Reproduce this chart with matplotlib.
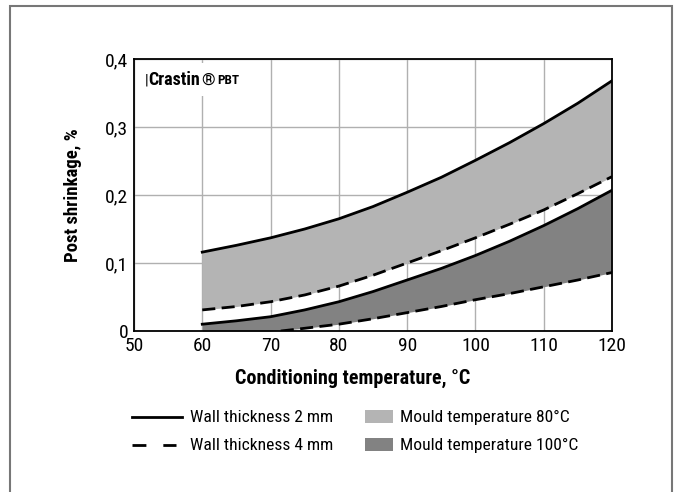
import numpy as np
import matplotlib.pyplot as plt
from matplotlib.lines import Line2D
from matplotlib.patches import Rectangle

plt.rcParams['font.family'] = ['Roboto Condensed', 'Barlow Semi Condensed', 'DejaVu Sans']

temp = [60, 65, 70, 75, 80, 85, 90, 95, 100, 105, 110, 115, 120]
# mould 80 C
m80_2mm = [0.116, 0.126, 0.137, 0.150, 0.165, 0.183, 0.204, 0.226, 0.251, 0.277, 0.305, 0.335, 0.368]
m80_4mm = [0.031, 0.036, 0.043, 0.053, 0.066, 0.082, 0.100, 0.118, 0.137, 0.157, 0.178, 0.202, 0.227]
# mould 100 C
m100_2mm = [0.010, 0.015, 0.021, 0.031, 0.043, 0.058, 0.075, 0.092, 0.111, 0.132, 0.155, 0.180, 0.207]
temp_4mm100 = [71.5, 75, 80, 85, 90, 95, 100, 105, 110, 115, 120]
m100_4mm = [0.0, 0.004, 0.010, 0.018, 0.027, 0.036, 0.046, 0.055, 0.065, 0.075, 0.086]

xticks = [50, 60, 70, 80, 90, 100, 110, 120]
yticks = [0, 0.1, 0.2, 0.3, 0.4]
ylabels = ['0', '0,1', '0,2', '0,3', '0,4']

light = '#b4b4b4'
dark = '#828282'

fig = plt.figure(figsize=(6.74, 4.92), dpi=100)
W, H = 674, 492
ax = fig.add_axes([134 / W, 1 - 331 / H, 478 / W, 272 / H])

ax.fill_between(temp, m80_4mm, m80_2mm, color=light, lw=0, zorder=2)
low100 = np.interp(temp, temp_4mm100, m100_4mm, left=0.0)
ax.fill_between(temp, low100, m100_2mm, color=dark, lw=0, zorder=2)

ax.plot(temp, m80_2mm, color='black', lw=2.0, zorder=3)
ax.plot(temp, m100_2mm, color='black', lw=2.0, zorder=3)
ax.plot(temp, m80_4mm, color='black', lw=2.0, dashes=(4.7, 2.3), zorder=3)
ax.plot(temp_4mm100, m100_4mm, color='black', lw=2.0, dashes=(4.7, 2.3), zorder=3)

ax.set_xlim(50, 120)
ax.set_ylim(0, 0.4)
ax.set_xticks(xticks)
ax.set_xticklabels([str(t) for t in xticks], fontsize=14)
ax.set_yticks(yticks)
ax.set_yticklabels(ylabels, fontsize=14)
ax.tick_params(axis='x', length=0, pad=4)
ax.tick_params(axis='y', length=0, pad=4)
ax.grid(True, color='#b0b0b0', lw=1.0, zorder=0)
ax.set_axisbelow(True)
for s in ax.spines.values():
    s.set_linewidth(1.3)
    s.set_color('black')

ax.set_xlabel('Conditioning temperature, °C', fontsize=14.5, fontweight='bold')
ax.xaxis.set_label_coords((353 - 134) / 478, -(378 - 331) / 272)
ax.xaxis.label.set_va('center')
ax.set_ylabel('Post shrinkage, %', fontsize=13.5, fontweight='bold')
ax.yaxis.set_label_coords(-(134 - 73) / 478, 0.5)
ax.yaxis.label.set_va('center')

# product label on a white patch that hides the grid
ax.add_patch(Rectangle((3 / 478, (331 - 96) / 272), 105 / 478, 33 / 272,
                       transform=ax.transAxes, facecolor='white', edgecolor='none', zorder=1))
t0 = ax.text((145 - 134) / 478, 1 - (80 - 59) / 272, '|', transform=ax.transAxes,
             fontsize=11, va='center', ha='left', zorder=6)
t1 = ax.annotate('Crastin', xy=(0.95, 0.5), xycoords=t0, fontsize=13, fontweight='bold',
                 va='center', ha='left', zorder=6)
t2 = ax.annotate('®', xy=(1.02, 0.5), xycoords=t1, fontsize=12.5,
                 va='center', ha='left', zorder=6)
ax.annotate('PBT', xy=(1.15, 0.45), xycoords=t2, fontsize=9.5, fontweight='bold',
            va='center', ha='left', zorder=6)

# legend drawn in figure pixels
def fx(px):
    return px / W

def fy(py):
    return 1 - py / H

fig.add_artist(Line2D([fx(132), fx(182)], [fy(417), fy(417)], color='black', lw=2.0))
fig.add_artist(Line2D([fx(132), fx(176)], [fy(445), fy(445)], color='black', lw=2.0,
                      dashes=(5, 6.1)))
fig.text(fx(190), fy(417), 'Wall thickness 2 mm', fontsize=12.6, va='center')
fig.text(fx(190), fy(445), 'Wall thickness 4 mm', fontsize=12.6, va='center')
fig.add_artist(Rectangle((fx(365), fy(423)), fx(28), 13 / H, color=light, lw=0))
fig.add_artist(Rectangle((fx(365), fy(451)), fx(28), 13 / H, color=dark, lw=0))
fig.text(fx(400), fy(417), 'Mould temperature 80°C', fontsize=12.6, va='center')
fig.text(fx(400), fy(445), 'Mould temperature 100°C', fontsize=12.6, va='center')

# outer frame
fig.add_artist(Rectangle((fx(9.5), fy(520)), fx(662), 514 / H, fill=False,
                         edgecolor='#777777', lw=1.5, clip_on=False))

plt.savefig('out.png', dpi=100)
